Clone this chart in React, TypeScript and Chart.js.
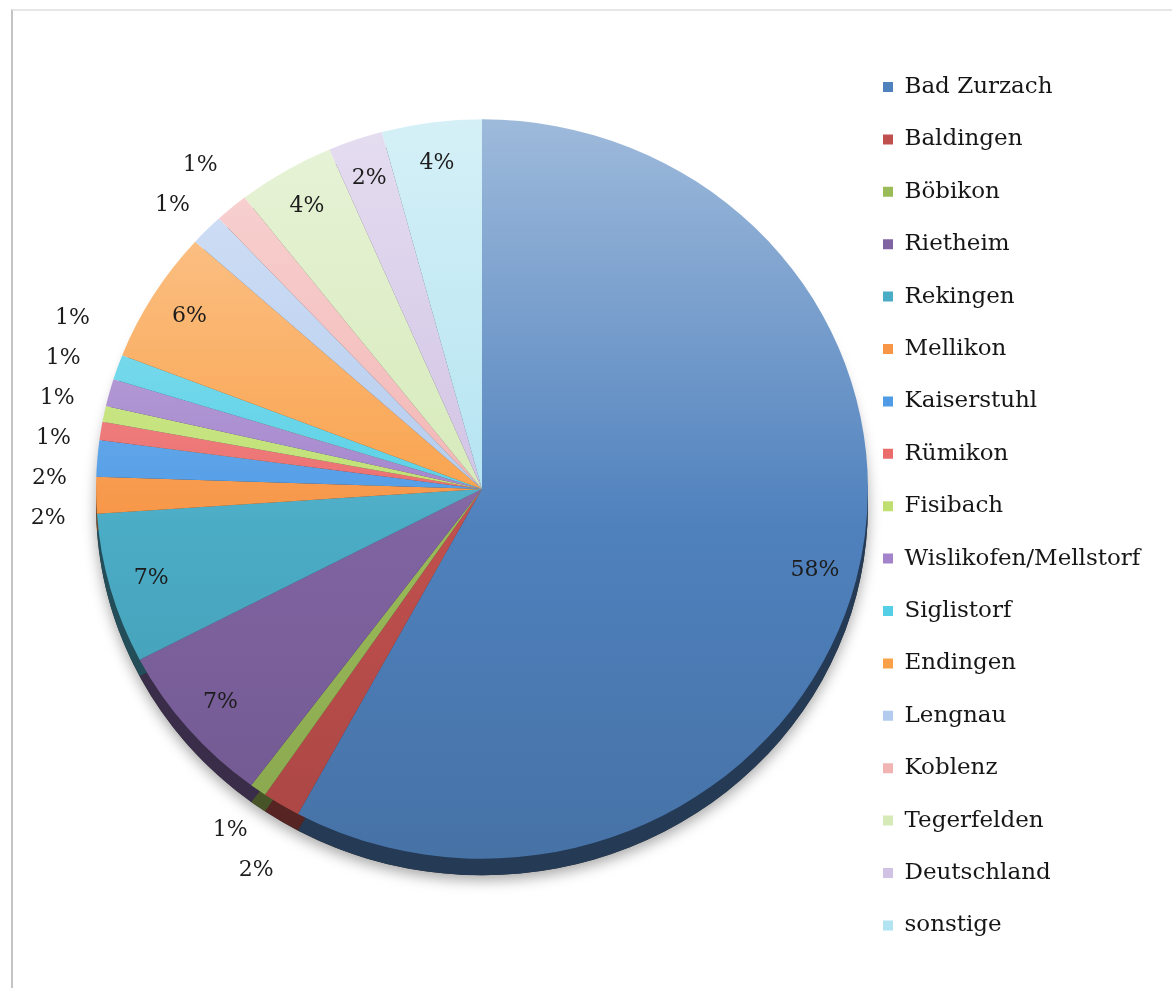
import { useEffect, useRef } from 'react';
import { Chart, registerables } from 'chart.js';

Chart.register(...registerables);

const categories = [
  'Bad Zurzach', 'Baldingen', 'Böbikon', 'Rietheim', 'Rekingen', 'Mellikon',
  'Kaiserstuhl', 'Rümikon', 'Fisibach', 'Wislikofen/Mellstorf', 'Siglistorf',
  'Endingen', 'Lengnau', 'Koblenz', 'Tegerfelden', 'Deutschland', 'sonstige',
];
const values = [58.2, 1.6, 0.7, 7.2, 6.6, 1.6, 1.6, 0.8, 0.7, 1.2, 1.1, 5.8, 1.4, 1.4, 4.1, 2.3, 4.2];
const colors = [
  '#4f81bd', '#c0504d', '#9bbb59', '#8064a2', '#4bacc6', '#f79646',
  '#4f9be6', '#ec6b6b', '#bfe070', '#a283cc', '#55cfe6', '#f9a048',
  '#b3cbee', '#f2b4b3', '#d5eab8', '#d0c2e4', '#b2e3f1',
];

const CX = 482;
const CY = 489;
const R = 378;
const SX = 1.021;
const SY = 0.978;
const DEPTH = 17;
const LEGEND_FONT_SIZE = 23;
const LEGEND_PAD = 52.4 - LEGEND_FONT_SIZE;
const FONT_FAMILY = '"DejaVu Serif"';

function hexToRgb(hex: string) {
  const n = parseInt(hex.slice(1), 16);
  return [(n >> 16) & 255, (n >> 8) & 255, n & 255];
}
function mix(hex: string, target: number[], t: number) {
  const c = hexToRgb(hex);
  const r = c.map((v, i) => Math.round(v + (target[i] - v) * t));
  return `rgb(${r[0]},${r[1]},${r[2]})`;
}
const WHITE = [255, 255, 255];
const BLACK = [0, 0, 0];

function applyTilt(ctx: CanvasRenderingContext2D, x: number, y: number) {
  ctx.translate(x, y);
  ctx.scale(SX, SY);
  ctx.translate(-x, -y);
}

const rimPlugin = {
  id: 'rim3d',
  beforeDatasetsDraw(chart: any) {
    const meta = chart.getDatasetMeta(0);
    if (!meta.data.length) return;
    const ctx = chart.ctx;
    const first = meta.data[0];
    ctx.save();
    applyTilt(ctx, first.x, first.y);
    ctx.save();
    ctx.shadowColor = 'rgba(0,0,0,0.35)';
    ctx.shadowBlur = 14;
    ctx.shadowOffsetY = 5;
    ctx.beginPath();
    ctx.arc(first.x, first.y + DEPTH, first.outerRadius, 0, Math.PI * 2);
    ctx.fillStyle = '#333';
    ctx.fill();
    ctx.restore();
    meta.data.forEach((el: any, i: number) => {
      ctx.beginPath();
      ctx.moveTo(el.x, el.y + DEPTH);
      ctx.arc(el.x, el.y + DEPTH, el.outerRadius, el.startAngle, el.endAngle);
      ctx.closePath();
      ctx.fillStyle = mix(colors[i], BLACK, 0.55);
      ctx.fill();
    });
    // the tilt transform stays active while the library draws the slices
  },
  afterDatasetsDraw(chart: any) {
    const meta = chart.getDatasetMeta(0);
    if (!meta.data.length) return;
    chart.ctx.restore();
  },
};

const labelPlugin = {
  id: 'pctLabels',
  afterDatasetsDraw(chart: any) {
    const meta = chart.getDatasetMeta(0);
    const ctx = chart.ctx;
    const total = values.reduce((a, b) => a + b, 0);
    const items = meta.data.map((el: any, i: number) => {
      const mid = (el.startAngle + el.endAngle) / 2;
      const inside = values[i] >= 2;
      const r = inside ? el.outerRadius * 0.89 : el.outerRadius + 47;
      const x = el.x + Math.cos(mid) * r * SX;
      let y = el.y + Math.sin(mid) * r * SY;
      if (!inside && Math.sin(mid) > 0) y += DEPTH * Math.sin(mid);
      return { x, y, inside, text: Math.round((values[i] / total) * 100) + '%', i };
    });
    const outs = items.filter((it: any) => !it.inside);
    const MIN = 40;
    for (let iter = 0; iter < 200; iter++) {
      let moved = false;
      for (let a = 0; a < outs.length; a++) {
        for (let b = a + 1; b < outs.length; b++) {
          const p = outs[a];
          const q = outs[b];
          if (Math.abs(p.x - q.x) > 44) continue;
          const dy = q.y - p.y;
          if (Math.abs(dy) >= MIN - 0.01) continue;
          const push = (MIN - Math.abs(dy)) / 2;
          const upper = dy > 0 || (dy === 0 && p.i < q.i) ? p : q;
          const lower = upper === p ? q : p;
          upper.y -= push;
          lower.y += push;
          moved = true;
        }
      }
      if (!moved) break;
    }
    ctx.save();
    ctx.font = `22px ${FONT_FAMILY}`;
    ctx.fillStyle = '#1c1c1c';
    ctx.textAlign = 'center';
    ctx.textBaseline = 'middle';
    items.forEach((it: any) => ctx.fillText(it.text, it.x, it.y));
    ctx.restore();
  },
};

export default function App() {
  const ref = useRef<HTMLCanvasElement>(null);
  useEffect(() => {
    const canvas = ref.current;
    if (!canvas) return;
    const m = document.createElement('canvas').getContext('2d')!;
    m.font = `${LEGEND_FONT_SIZE}px ${FONT_FAMILY}`;
    const tw = Math.max(...categories.map((c) => m.measureText(c).width));
    const boxLeft = 883;
    const legendLeft = boxLeft - LEGEND_PAD;
    const legendWidth = LEGEND_PAD + 10 + LEGEND_FONT_SIZE / 2 + tw + 10;
    const padRight = Math.max(0, 1172 - legendLeft - legendWidth);
    const padLeft = 2 * CX - legendLeft;

    const chart = new Chart(canvas, {
      type: 'pie',
      data: {
        labels: categories,
        datasets: [
          {
            data: values,
            radius: R,
            borderWidth: 0,
            backgroundColor: (c: any) => {
              const ch = c.chart;
              const ca = ch.chartArea;
              const base = colors[c.dataIndex] || colors[0];
              if (!ca) return base;
              const cy = (ca.top + ca.bottom) / 2;
              const g = ch.ctx.createLinearGradient(0, cy - R, 0, cy + R);
              g.addColorStop(0, mix(base, WHITE, 0.45));
              g.addColorStop(0.55, base);
              g.addColorStop(1, mix(base, BLACK, 0.12));
              return g;
            },
          } as any,
        ],
      },
      options: {
        responsive: false,
        animation: false,
        events: [],
        layout: { padding: { left: padLeft, right: padRight, top: 0, bottom: 988 - 2 * CY } },
        plugins: {
          tooltip: { enabled: false },
          legend: {
            position: 'right',
            align: 'center',
            title: { display: true, text: '', padding: 10, font: { size: 12 } },
            labels: {
              boxWidth: 10,
              boxHeight: 10,
              padding: LEGEND_PAD,
              color: '#161616',
              font: { family: 'DejaVu Serif', size: LEGEND_FONT_SIZE },
              generateLabels: () =>
                categories.map((c, i) => ({
                  text: c,
                  fillStyle: colors[i],
                  strokeStyle: colors[i],
                  lineWidth: 0,
                  hidden: false,
                  index: i,
                  fontColor: '#161616',
                })),
            },
          },
        },
      },
      plugins: [rimPlugin, labelPlugin],
    });
    return () => chart.destroy();
  }, []);

  return (
    <div style={{ position: 'fixed', left: 0, top: 0, width: 1172, height: 988, background: '#fff', overflow: 'hidden' }}>
      <div
        style={{
          position: 'absolute',
          left: 11,
          top: 9,
          width: 1200,
          height: 1000,
          borderLeft: '2px solid #c4c4c4',
          borderTop: '2px solid #e6e6e6',
        }}
      />
      <canvas ref={ref} width={1172} height={988} style={{ position: 'absolute', left: 0, top: 0 }} />
    </div>
  );
}
